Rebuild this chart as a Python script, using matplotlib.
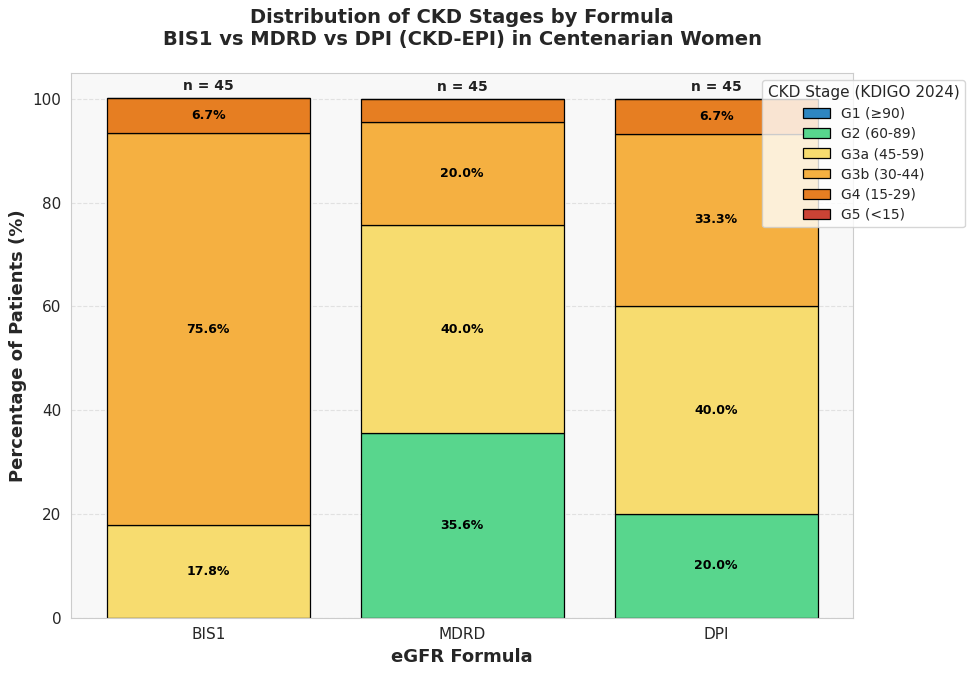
import numpy as np
import matplotlib
matplotlib.use("Agg")
import matplotlib.pyplot as plt
import seaborn as sns

sns.set_style("whitegrid")
plt.rcParams['font.family'] = ['DejaVu Sans']

# == Data == #
formulas = ["BIS1", "MDRD", "DPI"]
stages = ["G1 (≥90)", "G2 (60-89)", "G3a (45-59)", "G3b (30-44)", "G4 (15-29)", "G5 (<15)"]
colors = ["#2e86c1", "#58d68d", "#f7dc6f", "#f5b041", "#e67e22", "#cb4335"]
g1 = [0.0, 0.0, 0.0]
g2 = [0.0, 35.6, 20.0]
g3a = [17.8, 40.0, 40.0]
g3b = [75.6, 20.0, 33.3]
g4 = [6.7, 4.4, 6.7]
g5 = [0.0, 0.0, 0.0]
n_patients = [45, 45, 45]

values = np.array([g1, g2, g3a, g3b, g4, g5])

fig, ax = plt.subplots(figsize=(9.74, 6.75), dpi=100)
ax.set_facecolor("#f8f8f8")

x = np.arange(len(formulas))
bottom = np.zeros(len(formulas))
for i, stage in enumerate(stages):
    ax.bar(x, values[i], 0.8, bottom=bottom, color=colors[i], edgecolor="black",
           linewidth=0.9, label=stage)
    for j in range(len(formulas)):
        v = values[i][j]
        if v > 5:
            ax.text(x[j], bottom[j] + v / 2, f"{v:.1f}%", ha="center", va="center",
                    fontsize=9, fontweight="bold", color="black")
    bottom += values[i]

for j in range(len(formulas)):
    ax.text(x[j], bottom[j] + 1, f"n = {n_patients[j]}", ha="center", va="bottom",
            fontsize=10, fontweight="bold", color="#222222")

ax.set_ylim(0, 105)
ax.set_xticks(x)
ax.set_xticklabels(formulas, fontsize=11)
ax.tick_params(axis="y", labelsize=11)
ax.set_xlabel("eGFR Formula", fontsize=13, fontweight="bold")
ax.set_ylabel("Percentage of Patients (%)", fontsize=13, fontweight="bold")
ax.set_title("Distribution of CKD Stages by Formula\nBIS1 vs MDRD vs DPI (CKD-EPI) in Centenarian Women",
             fontsize=14, fontweight="bold", pad=20)
ax.grid(axis="y", linestyle="--", alpha=0.5)
ax.grid(axis="x", visible=False)
ax.set_axisbelow(True)

ax.legend(title="CKD Stage (KDIGO 2024)", loc="upper right", bbox_to_anchor=(1.152, 1.0),
          fontsize=10, title_fontsize=11, frameon=True, labelspacing=0.45)

fig.subplots_adjust(left=0.073, right=0.876, top=0.892, bottom=0.085)
fig.savefig("out.png", dpi=100)
